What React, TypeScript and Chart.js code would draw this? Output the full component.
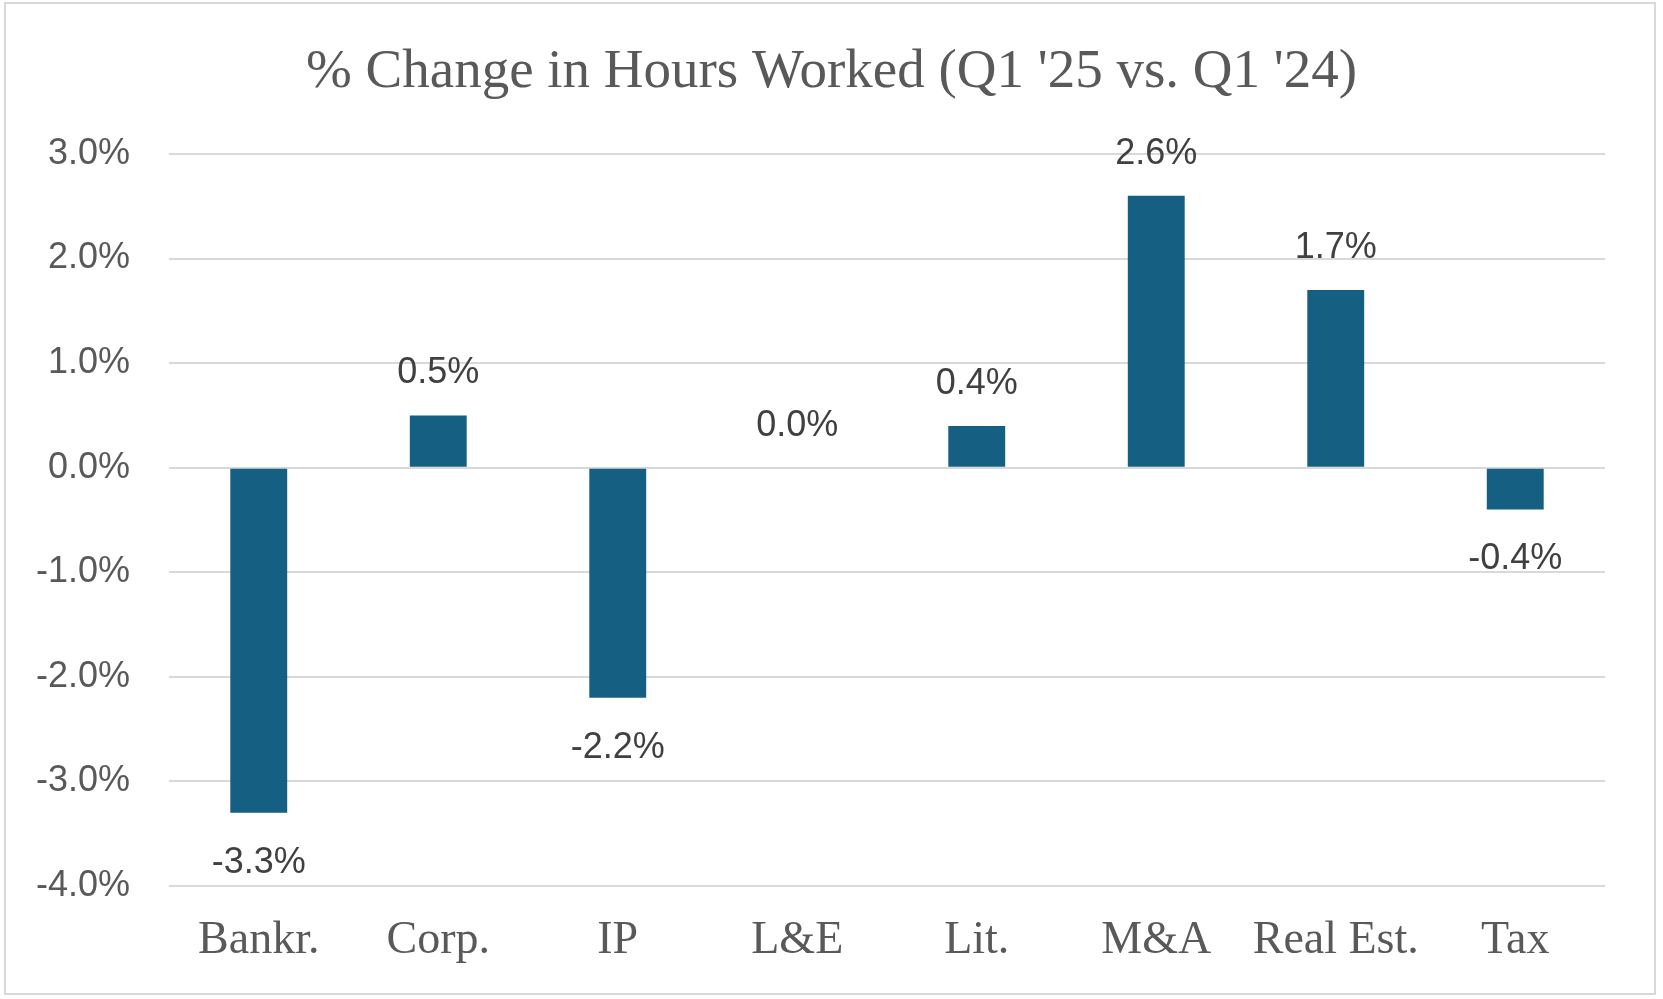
import React, { useEffect, useRef } from "react";
import { Chart, registerables } from "chart.js";

Chart.register(...registerables);

const categories = ["Bankr.", "Corp.", "IP", "L&E", "Lit.", "M&A", "Real Est.", "Tax"];
const values = [-3.3, 0.5, -2.2, 0.0, 0.4, 2.6, 1.7, -0.4];
const yTicks = [3, 2, 1, 0, -1, -2, -3, -4];
const titleText = "% Change in Hours Worked (Q1 '25 vs. Q1 '24)";

const SANS = "'Liberation Sans', Arial, sans-serif";
const SERIF = "'Liberation Serif', 'Times New Roman', serif";

const labelPlugin = {
  id: "barLabels",
  afterDatasetsDraw(chart: any) {
    const ctx = chart.ctx;
    const meta = chart.getDatasetMeta(0);
    const yScale = chart.scales.y;
    const zero = yScale.getPixelForValue(0);
    ctx.save();
    ctx.font = `36px ${SANS}`;
    ctx.fillStyle = "#404040";
    ctx.textAlign = "center";
    ctx.textBaseline = "middle";
    meta.data.forEach((bar: any, i: number) => {
      const v = values[i];
      const text = v.toFixed(1) + "%";
      let y;
      if (v >= 0) {
        y = Math.min(bar.y, zero) - 42;
      } else {
        y = bar.y + 50;
      }
      ctx.fillText(text, bar.x, y);
    });
    ctx.restore();
  },
};

const titlePlugin = {
  id: "centerTitle",
  afterDraw(chart: any) {
    const ctx = chart.ctx;
    ctx.save();
    ctx.font = `55px ${SERIF}`;
    ctx.fillStyle = "#595959";
    ctx.textAlign = "center";
    ctx.textBaseline = "alphabetic";
    ctx.fillText(titleText, chart.width / 2, 87);
    ctx.restore();
  },
};

export default function App() {
  const ref = useRef<HTMLCanvasElement>(null);
  useEffect(() => {
    const canvas = ref.current!;
    const chart = new Chart(canvas, {
      type: "bar",
      data: {
        labels: categories,
        datasets: [
          {
            data: values,
            backgroundColor: "#155F82",
            borderWidth: 0,
            categoryPercentage: 1,
            barPercentage: 0.317,
          },
        ],
      },
      options: {
        animation: false,
        responsive: false,
        maintainAspectRatio: false,
        devicePixelRatio: 1,
        layout: { padding: { left: 0, right: 58, top: 154, bottom: 30 } },
        plugins: {
          legend: { display: false },
          tooltip: { enabled: false },
          title: { display: false },
        },
        scales: {
          x: {
            grid: { display: false, drawTicks: false },
            border: { display: false },
            ticks: {
              color: "#595959",
              font: { family: SERIF, size: 46 },
              padding: 27,
              maxRotation: 0,
              autoSkip: false,
            },
            afterFit(scale: any) {
              scale.height = 83;
            },
          },
          y: {
            min: -4,
            max: 3,
            afterBuildTicks(scale: any) {
              scale.ticks = yTicks.map((v) => ({ value: v }));
            },
            grid: { color: "#d9d9d9", lineWidth: 2, drawTicks: false },
            border: { display: false },
            ticks: {
              color: "#595959",
              font: { family: SANS, size: 36 },
              padding: 39,
              callback: (v: any) => Number(v).toFixed(1) + "%",
            },
            afterFit(scale: any) {
              scale.width = 169;
            },
          },
        },
      },
      plugins: [labelPlugin, titlePlugin],
    });
    return () => chart.destroy();
  }, []);
  return (
    <div style={{ position: "fixed", left: 0, top: 0, width: 1663, height: 999, background: "#fff" }}>
      <div
        style={{
          position: "absolute",
          left: 4,
          top: 2,
          width: 1652,
          height: 993,
          border: "2px solid #d9d9d9",
          boxSizing: "border-box",
        }}
      />
      <canvas ref={ref} width={1663} height={999} style={{ position: "absolute", left: 0, top: 0 }} />
    </div>
  );
}
